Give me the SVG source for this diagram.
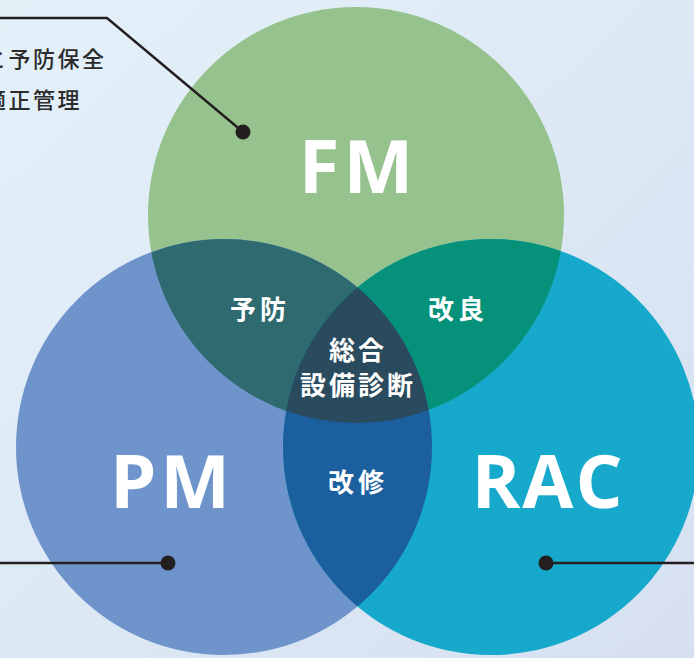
<svg xmlns="http://www.w3.org/2000/svg" width="694" height="658" viewBox="0 0 694 658">
<defs>
<linearGradient id="bg" x1="0" y1="0" x2="1" y2="1">
<stop offset="0" stop-color="#e4f1f9"/>
<stop offset="1" stop-color="#d6e0f1"/>
</linearGradient>
<clipPath id="cFM"><circle cx="356" cy="215" r="208"/></clipPath>
<clipPath id="cPM"><circle cx="224" cy="447" r="208"/></clipPath>
<clipPath id="cRAC"><circle cx="491" cy="447" r="208"/></clipPath>
<clipPath id="cFMPM" clip-path="url(#cFM)"><circle cx="224" cy="447" r="208"/></clipPath>
</defs>
<style>
.big{font-family:"Open Sans","Liberation Sans",sans-serif;font-weight:700;font-size:74px;fill:#ffffff;text-anchor:middle}
.lab{font-family:"Noto Sans CJK JP","Noto Sans",sans-serif;font-weight:700;font-size:26px;fill:#ffffff;text-anchor:middle;letter-spacing:4px}
.lab2{font-family:"Noto Sans CJK JP","Noto Sans",sans-serif;font-weight:700;font-size:26px;fill:#ffffff;text-anchor:middle;letter-spacing:3px}
.note{font-family:"Noto Sans CJK JP","Noto Sans",sans-serif;font-weight:500;font-size:22px;fill:#2b2b2b;letter-spacing:2.5px}
.lead{fill:none;stroke:#231f20;stroke-width:2.4}
.dot{fill:#231f20}
</style>
<rect width="694" height="658" fill="url(#bg)"/>
<g id="node-fm"><circle cx="356" cy="215" r="208" fill="#96c28e"/></g>
<g id="node-pm"><circle cx="224" cy="447" r="208" fill="#6f93cb"/></g>
<g id="node-rac"><circle cx="491" cy="447" r="208" fill="#17a9cb"/></g>
<g id="node-yobo"><circle cx="224" cy="447" r="208" fill="#2f6a70" clip-path="url(#cFM)"/></g>
<g id="node-kairyo"><circle cx="491" cy="447" r="208" fill="#06927a" clip-path="url(#cFM)"/></g>
<g id="node-kaishu"><circle cx="491" cy="447" r="208" fill="#1b5f9f" clip-path="url(#cPM)"/></g>
<g id="node-sogo"><circle cx="491" cy="447" r="208" fill="#2a4a5e" clip-path="url(#cFMPM)"/></g>
<g id="labels">
<text class="big" x="358" y="193" letter-spacing="4">FM</text>
<text class="big" x="172" y="508" letter-spacing="4">PM</text>
<text class="big" x="548" y="508" letter-spacing="2">RAC</text>
<text class="lab" x="260" y="319">予防</text>
<text class="lab" x="458" y="319">改良</text>
<text class="lab" x="358" y="492">改修</text>
<text class="lab2" x="358" y="360">総合</text>
<text class="lab2" x="358" y="395">設備診断</text>
<text class="note" x="-16" y="67">と予防保全</text>
<text class="note" x="-16" y="108">適正管理</text>
</g>
<g id="connectors">
<polyline class="lead" points="0,18 107,18 243,132"/>
<circle class="dot" cx="243" cy="132" r="7.5"/>
<line class="lead" x1="0" y1="563" x2="168" y2="563"/>
<circle class="dot" cx="168" cy="563" r="7.5"/>
<line class="lead" x1="546" y1="563" x2="694" y2="563"/>
<circle class="dot" cx="546" cy="563" r="7.5"/>
</g>
</svg>
